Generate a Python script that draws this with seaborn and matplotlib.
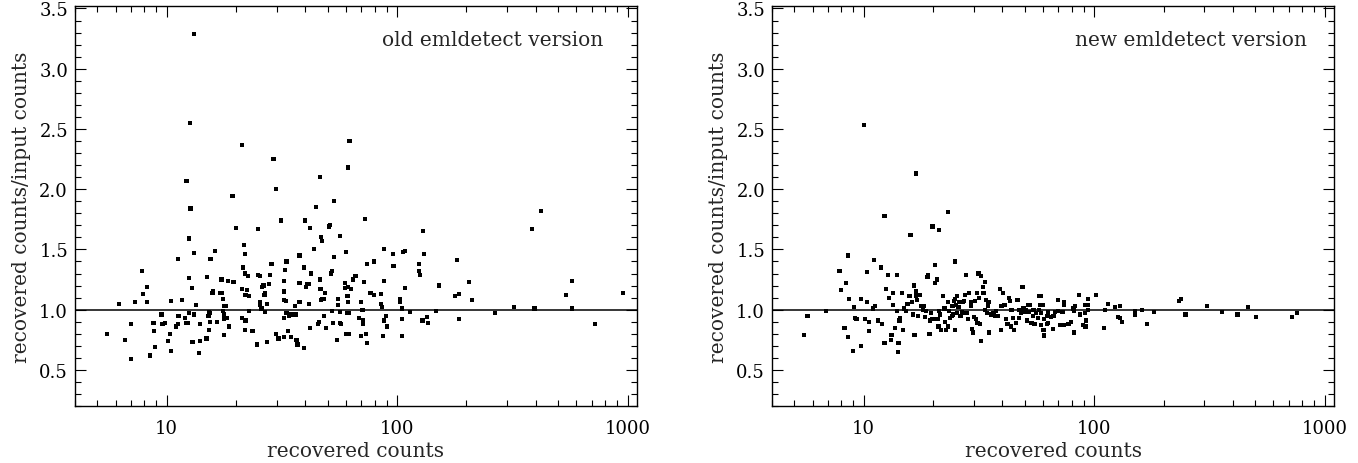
import numpy as np
import pandas as pd
import matplotlib
matplotlib.use("Agg")
import matplotlib.pyplot as plt
import seaborn as sns
from matplotlib.ticker import FixedLocator, FixedFormatter, NullFormatter, MultipleLocator, FormatStrFormatter

# ---- old emldetect version: recovered counts vs recovered/input ratio ----
old_counts = [
    13.1, 12.6, 12.2, 12.7, 12.55, 13.1, 12.45, 12.85, 13.4, 11.2, 11.7, 21.2, 29.1, 29.9, 19.3,
    20.0, 25.0, 31.3, 40.0, 41.8, 46.3, 44.5, 53.2, 62.2, 61.2, 51.2, 50.7, 46.7, 47.1, 56.6,
    66.0, 64.6, 62.9, 61.2, 60.9, 61.2, 60.1, 59.6, 59.2, 60.4, 61.7, 60.1, 62.0, 56.6, 56.6,
    56.9, 55.2, 55.6, 53.2, 52.3, 51.8, 52.3, 52.5, 54.7, 48.6, 48.2, 48.0, 49.0, 47.3, 46.9,
    46.1, 46.5, 45.7, 45.5, 43.5, 42.2, 41.3, 41.5, 42.0, 40.3, 40.7, 39.3, 37.7, 37.7, 36.0,
    36.3, 36.6, 34.8, 33.9, 33.7, 37.7, 37.0, 39.5, 34.6, 33.1, 32.3, 33.1, 32.7, 32.4, 32.3,
    33.0, 32.3, 30.6, 32.2, 29.8, 28.5, 28.2, 27.8, 26.7, 26.6, 27.2, 26.8, 26.3, 26.0, 25.4,
    25.0, 25.4, 25.4, 27.3, 24.7, 25.8, 23.6, 22.7, 22.5, 22.4, 22.7, 22.0, 21.9, 21.6, 21.4,
    21.9, 21.3, 22.0, 21.2, 21.9, 18.6, 18.1, 18.2, 17.8, 18.5, 19.5, 17.7, 17.7, 17.3, 17.0,
    17.5, 17.3, 17.5, 16.6, 16.2, 15.5, 15.8, 15.9, 17.8, 14.95, 15.4, 15.2, 15.4, 15.3, 14.9,
    15.3, 13.9, 13.95, 13.8, 13.1, 12.95, 12.45, 12.4, 12.0, 12.2, 11.25, 11.2, 10.96, 10.45, 10.3,
    10.45, 10.1, 9.8, 9.5, 9.6, 8.8, 8.7, 8.8, 8.9, 8.5, 8.25, 8.2, 7.9, 7.8, 7.3,
    7.0, 7.0, 6.6, 6.2, 5.5,
    72.7, 130, 88.1, 95.9, 106, 108, 131, 79.3, 73.9, 96.5, 125, 125, 126, 72, 87.8,
    108, 76.7, 79.3, 85.5, 69.5, 70.8, 85, 85.8, 102.6, 102.9, 105.3, 114, 89.3, 68.6, 71.3,
    71.3, 87.5, 90.2, 104.7, 129, 135, 136.5, 73, 69.8, 86.7, 104.7, 74.3,
    182.6, 185, 178, 185, 152, 206, 212, 147, 265, 323, 395, 385, 422, 573, 539,
    575, 721, 959,
]
old_ratio = [
    3.29, 2.55, 2.07, 1.84, 1.59, 1.47, 1.26, 1.18, 1.04, 1.42, 1.08, 2.37, 2.25, 2.00, 1.94,
    1.68, 1.67, 1.74, 1.74, 1.68, 2.10, 1.85, 1.90, 2.40, 2.18, 1.70, 1.69, 1.60, 1.57, 1.61,
    1.28, 1.25, 1.17, 1.19, 1.11, 1.06, 1.48, 1.22, 1.18, 0.97, 0.97, 0.80, 0.80, 0.98, 0.89,
    0.88, 1.09, 1.04, 1.44, 1.32, 1.30, 0.99, 0.89, 0.75, 1.14, 1.09, 0.95, 0.85, 1.09, 1.08,
    1.25, 1.17, 0.90, 0.88, 1.50, 1.30, 1.21, 1.05, 0.85, 1.19, 1.21, 1.35, 1.22, 1.06, 1.03,
    0.96, 0.75, 0.96, 0.95, 0.82, 1.45, 0.71, 0.68, 0.77, 0.97, 0.77, 1.40, 1.33, 1.24, 1.08,
    1.07, 1.15, 0.76, 0.93, 0.80, 1.38, 1.29, 1.21, 1.14, 1.12, 1.05, 0.98, 1.20, 1.19, 1.28,
    1.29, 1.06, 1.04, 0.73, 0.71, 1.01, 0.82, 0.99, 1.28, 1.16, 1.11, 1.12, 1.46, 1.54, 1.35,
    1.30, 1.17, 0.91, 0.93, 0.83, 0.86, 1.03, 0.93, 0.96, 1.24, 1.23, 1.03, 0.92, 1.14, 1.14,
    1.09, 1.25, 0.99, 0.90, 1.49, 1.42, 1.14, 1.15, 0.79, 1.27, 0.97, 0.95, 0.90, 0.98, 0.76,
    0.83, 0.88, 0.74, 0.64, 0.96, 0.73, 0.97, 0.89, 0.93, 0.89, 0.95, 0.88, 0.86, 1.07, 0.80,
    0.66, 0.74, 0.89, 0.96, 0.88, 0.89, 0.89, 0.82, 0.69, 0.62, 1.06, 1.19, 1.13, 1.32, 1.06,
    0.88, 0.59, 0.75, 1.05, 0.80,
    1.75, 1.65, 1.50, 1.46, 1.48, 1.49, 1.46, 1.40, 1.38, 1.36, 1.38, 1.32, 1.29, 1.23, 1.24,
    1.18, 1.14, 1.12, 1.13, 1.06, 1.00, 1.05, 1.02, 1.09, 1.06, 1.01, 0.98, 0.95, 0.93, 0.91,
    0.88, 0.91, 0.86, 0.92, 0.91, 0.94, 0.89, 0.80, 0.78, 0.78, 0.78, 0.72,
    1.41, 1.13, 1.11, 0.92, 1.20, 1.23, 1.08, 0.99, 0.97, 1.02, 1.01, 1.67, 1.82, 1.24, 1.12,
    1.01, 0.88, 1.14,
]

# ---- new emldetect version ----
new_counts = [
    10.0, 16.8, 12.3, 23.2, 15.95, 19.9, 21.2,
    5.5, 5.7, 6.85, 7.8, 7.85, 8.0, 8.4, 8.55, 8.65, 8.25, 8.55, 9.05, 9.0, 9.2,
    9.3, 9.7, 9.75, 10.1, 10.3, 10.3, 10.5, 10.55, 11.0, 11.1, 11.2, 11.55, 11.9, 12.0, 12.3,
    12.5, 12.7, 12.85, 13.15, 13.2, 13.4, 13.4, 13.65, 13.95, 14.0, 14.1, 14.15, 14.3, 14.4, 14.7,
    14.8, 14.9, 15.2, 15.5, 15.8, 16.2, 16.3, 16.5, 16.6, 16.9, 16.9, 17.1, 17.2, 17.3, 17.6,
    17.75, 18.05, 18.2, 18.5, 18.6, 18.9, 19.0, 19.3, 19.4, 19.6, 19.9, 20.4, 20.4, 20.8, 20.9,
    21.1, 21.3, 21.4, 21.6, 22.0, 22.4, 22.6, 22.8, 23.2, 23.3, 23.5, 23.75, 24.1, 24.3, 24.5,
    24.6, 24.8, 24.9, 24.9, 25.2, 25.3, 25.5, 25.8, 26.0, 26.3, 26.7, 26.9, 27.05, 27.3, 27.6,
    27.8, 28.1, 28.3, 28.7, 29.1, 29.3, 29.4, 29.7, 30.0, 30.3, 30.7, 31.0, 31.2, 31.5, 31.75,
    32.0, 32.2, 32.4, 32.8, 33.1, 33.5, 33.7, 33.9, 34.2, 34.5, 34.8, 35.1, 35.6, 36.3, 36.6,
    37.2, 37.5, 38.1, 39.0, 39.4, 39.6, 40.3, 40.8, 41.4, 42.1, 42.8, 43.2, 43.5, 43.8, 44.3,
    45.0, 45.8, 46.5, 47.0, 47.3, 48.1, 48.9, 49.4, 49.9, 50.6, 51.1, 51.6, 52.3, 52.8, 53.5,
    54.1, 54.6, 55.1, 55.9, 57.0, 57.8,
    57.8, 59.0, 58.3, 60.1, 58.6, 63.1, 60.7, 62.7, 64.9, 66.6, 67.8, 69.4, 69.8, 72.9, 74.3,
    74.1, 62.6, 63.2, 58.6, 60.3, 60.7, 60.4, 66.4, 71.2, 74.1, 77.4, 79.2, 81.4, 82.1, 82.5,
    82.1, 85.9, 86.7, 89.1, 91.2, 91.8, 92.2, 91.4, 94.0, 94.0, 94.0, 101.8, 109.9, 111.4, 114.4,
    122.7, 129.0, 126.9, 129.0, 131.6, 150.3, 150.3, 161.1, 170, 182, 233, 239, 249, 310, 360,
    419, 464, 504, 720, 759,
]
new_ratio = [
    2.53, 2.13, 1.78, 1.81, 1.62, 1.69, 1.66,
    0.79, 0.95, 0.99, 1.32, 1.32, 1.16, 1.22, 1.45, 1.09, 0.85, 0.77, 1.02, 0.66, 0.93,
    0.92, 0.70, 1.09, 0.92, 1.31, 1.06, 0.82, 0.90, 1.01, 1.41, 1.03, 0.91, 1.35, 0.88, 0.72,
    1.17, 1.29, 1.10, 0.75, 0.79, 1.04, 1.14, 0.85, 0.99, 1.29, 0.65, 0.72, 0.91, 0.93, 1.14,
    0.83, 1.01, 0.99, 1.05, 1.11, 1.06, 0.96, 1.20, 0.79, 1.11, 1.15, 1.08, 0.95, 1.12, 1.12,
    1.03, 1.00, 1.03, 0.94, 0.99, 1.27, 1.29, 0.80, 0.91, 0.97, 0.92, 1.37, 1.22, 1.25, 0.92,
    0.86, 0.99, 0.96, 0.83, 1.11, 1.01, 0.90, 0.83, 0.86, 1.06, 0.99, 0.93, 0.95, 1.03, 0.96,
    1.07, 1.09, 1.40, 0.83, 1.04, 0.97, 1.11, 1.02, 1.06, 0.95, 0.98, 1.06, 0.97, 1.07, 1.12,
    1.29, 0.97, 0.92, 1.14, 1.03, 1.06, 0.84, 0.81, 0.94, 1.07, 0.92, 1.14, 0.89, 1.30, 1.10,
    0.88, 0.74, 1.28, 1.19, 1.14, 1.00, 1.23, 1.08, 0.97, 1.03, 1.06, 0.81, 0.96, 0.96, 0.97,
    0.95, 0.99, 0.95, 1.17, 0.83, 1.03, 1.14, 1.04, 0.92, 0.88, 1.10, 1.07, 0.86, 1.00, 0.93,
    0.83, 0.89, 1.08, 1.00, 0.93, 0.97, 1.19, 1.01, 0.98, 1.00, 0.91, 1.04, 0.98, 1.04, 0.89,
    0.95, 1.00, 0.88, 0.97, 0.93, 1.00,
    1.11, 1.11, 1.04, 1.04, 0.97, 0.98, 0.92, 0.95, 0.94, 0.95, 0.98, 0.99, 1.08, 0.98, 1.06,
    1.04, 0.88, 0.89, 0.87, 0.83, 0.79, 0.78, 0.84, 0.87, 0.87, 0.88, 0.90, 1.01, 0.99, 1.03,
    0.81, 1.12, 0.96, 0.87, 1.04, 0.86, 0.91, 0.97, 1.09, 1.04, 1.00, 1.12, 0.85, 1.00, 1.05,
    1.02, 1.03, 0.94, 0.93, 0.90, 0.99, 0.96, 1.00, 0.88, 0.98, 1.07, 1.09, 0.96, 1.03, 0.98,
    0.96, 1.02, 0.94, 0.94, 0.97,
]

panel_titles = ["old emldetect version", "new emldetect version"]
x_ticks = [10, 100, 1000]
x_tick_labels = ["10", "100", "1000"]

sns.set_style("ticks")
plt.rcParams["font.family"] = ["DejaVu Serif"]
plt.rcParams.update({
    "font.size": 14.5,
    "xtick.labelsize": 13,
    "ytick.labelsize": 13,
    "axes.linewidth": 1.0,
    "xtick.major.width": 0.8,
    "ytick.major.width": 0.8,
    "xtick.minor.width": 0.8,
    "ytick.minor.width": 0.8,
})

fig = plt.figure(figsize=(13.58, 4.64), dpi=100)
ax_old = fig.add_axes([0.0552, 0.1228, 0.4139, 0.862])
ax_new = fig.add_axes([0.5685, 0.1228, 0.4139, 0.862])

panels = [
    (ax_old, pd.DataFrame({"counts": old_counts, "ratio": old_ratio}), panel_titles[0], 0.94),
    (ax_new, pd.DataFrame({"counts": new_counts, "ratio": new_ratio}), panel_titles[1], 0.952),
]

for ax, df, title, tx in panels:
    sns.scatterplot(data=df, x="counts", y="ratio", ax=ax, marker="s", s=9,
                    color="black", edgecolor="none", linewidth=0, legend=False)
    ax.axhline(1.0, color="black", lw=1.1, zorder=1)
    ax.set_xscale("log")
    ax.set_xlim(4.0, 1100)
    ax.set_ylim(0.2, 3.52)

    ax.xaxis.set_major_locator(FixedLocator(x_ticks))
    ax.xaxis.set_major_formatter(FixedFormatter(x_tick_labels))
    ax.xaxis.set_minor_locator(matplotlib.ticker.LogLocator(base=10, subs=np.arange(2, 10)))
    ax.xaxis.set_minor_formatter(NullFormatter())
    ax.yaxis.set_major_locator(MultipleLocator(0.5))
    ax.yaxis.set_minor_locator(MultipleLocator(0.1))
    ax.yaxis.set_major_formatter(FormatStrFormatter("%.1f"))

    ax.tick_params(which="both", direction="in", top=True, right=True, colors="black")
    ax.tick_params(which="major", length=8)
    ax.tick_params(which="minor", length=4.5)
    ax.tick_params(axis="x", which="major", pad=9)
    ax.tick_params(axis="y", which="major", pad=5)
    for spine in ax.spines.values():
        spine.set_visible(True)
        spine.set_color("black")

    ax.set_xlabel("recovered counts", labelpad=3)
    ax.set_ylabel("recovered counts/input counts", labelpad=6)
    ax.text(tx, 0.9175, title, transform=ax.transAxes, ha="right", va="center")

fig.savefig("out.png", dpi=100)
